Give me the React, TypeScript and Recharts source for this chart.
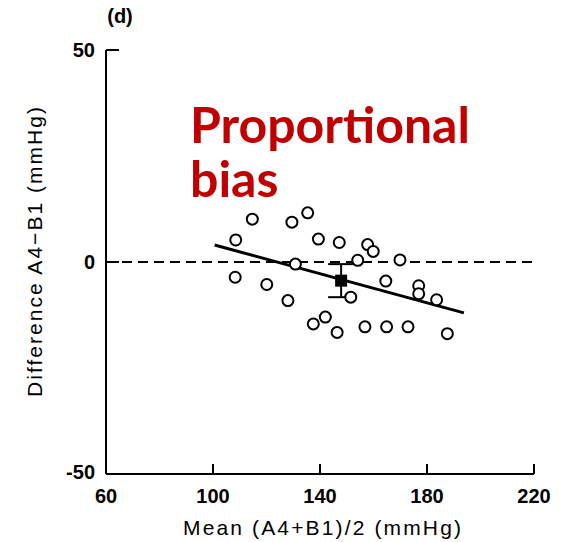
import React from "react";
import {
  ErrorBar,
  ReferenceLine,
  Scatter,
  ScatterChart,
  XAxis,
  YAxis,
} from "recharts";

// individual subjects: mean of the two readings vs their difference
const meanValues = [
  108.5, 114.7, 129.5, 135.4, 139.4, 147.2, 157.8, 159.9, 154.1, 169.9,
  108.3, 120.1, 128.0, 130.8, 164.6, 176.9, 176.9, 183.6, 151.5, 137.5,
  142.0, 146.4, 156.8, 164.9, 172.9, 187.6,
];
const diffValues = [
  5.2, 10.1, 9.4, 11.6, 5.4, 4.6, 4.1, 2.5, 0.4, 0.5,
  -3.6, -5.3, -9.1, -0.5, -4.5, -5.6, -7.5, -8.9, -8.3, -14.6,
  -13.0, -16.6, -15.3, -15.3, -15.3, -16.9,
];

// overall mean difference with its error bar
const biasX = [147.9];
const biasY = [-4.4];
const biasErr = [3.9];

// regression line end points
const fitX = [100.6, 193.8];
const fitY = [4.0, -12.0];

const xTicks = [60, 100, 140, 180, 220];
const yTicks = [-50, 0, 50];

const points = meanValues.map((x, i) => ({ x, y: diffValues[i] }));
const bias = biasX.map((x, i) => ({ x, y: biasY[i], err: biasErr[i] }));
const fitSegment = fitX.map((x, i) => ({ x, y: fitY[i] }));

const FONT = "'Liberation Sans', Arial, Helvetica, sans-serif";

function XTick(props: any) {
  const { x, y, payload } = props;
  const axisY = y - 3;
  return (
    <g>
      {payload.value !== 60 && (
        <line x1={x} x2={x} y1={axisY} y2={axisY - 10} stroke="#000" strokeWidth={2} />
      )}
      <text
        x={x}
        y={axisY + 29}
        textAnchor="middle"
        fontFamily={FONT}
        fontWeight="bold"
        fontSize={20}
        fill="#000"
      >
        {payload.value}
      </text>
    </g>
  );
}

function YTick(props: any) {
  const { x, y, payload } = props;
  const axisX = x + 11;
  return (
    <g>
      {payload.value !== -50 && (
        <line x1={axisX} x2={axisX + 13} y1={y} y2={y} stroke="#000" strokeWidth={2} />
      )}
      <text
        x={x}
        y={payload.value === -50 ? y - 2 : y}
        dy="0.36em"
        textAnchor="end"
        fontFamily={FONT}
        fontWeight="bold"
        fontSize={20}
        fill="#000"
      >
        {payload.value}
      </text>
    </g>
  );
}

function BiasSquare(props: any) {
  const { cx, cy } = props;
  return <rect x={cx - 6} y={cy - 6} width={12} height={12} fill="#000" />;
}

export default function App() {
  return (
    <div style={{ position: "absolute", left: 0, top: 0, width: 570, height: 542, background: "#fff" }}>
      <ScatterChart width={570} height={542} margin={{ top: 50, right: 36, bottom: 0, left: 0 }}>
        <XAxis
          type="number"
          dataKey="x"
          domain={[60, 220]}
          ticks={xTicks}
          height={68}
          tickSize={0}
          tickMargin={3}
          tick={XTick}
          axisLine={{ stroke: "#000", strokeWidth: 2 }}
          label={{
            content: () => (
              <text
                x={322}
                y={535}
                textAnchor="middle"
                textLength={278}
                fontFamily={FONT}
                fontSize={21}
                fill="#000"
              >
                Mean (A4+B1)/2 (mmHg)
              </text>
            ),
          }}
        />
        <YAxis
          type="number"
          dataKey="y"
          domain={[-50, 50]}
          ticks={yTicks}
          width={106}
          tickSize={0}
          tickMargin={11}
          tick={YTick}
          axisLine={{ stroke: "#000", strokeWidth: 2 }}
          label={{
            content: () => (
              <text
                transform="translate(42,252) rotate(-90)"
                textAnchor="middle"
                textLength={290}
                fontFamily={FONT}
                fontSize={21}
                fill="#000"
              >
                Difference A4−B1 (mmHg)
              </text>
            ),
          }}
        />
        <ReferenceLine y={0} stroke="#000" strokeWidth={2} strokeDasharray="10 6" />
        <ReferenceLine segment={fitSegment} stroke="#000" strokeWidth={3} />
        <Scatter
          data={points}
          fill="#fff"
          stroke="#000"
          strokeWidth={2}
          shape={(p: any) => (
            <circle cx={p.cx} cy={p.cy} r={5.5} fill="#fff" stroke="#000" strokeWidth={2} />
          )}
          isAnimationActive={false}
        />
        <Scatter data={bias} fill="#000" shape={BiasSquare} isAnimationActive={false}>
          <ErrorBar dataKey="err" direction="y" width={13} stroke="#000" strokeWidth={2} />
        </Scatter>
        <text x={120} y={23} textAnchor="middle" fontFamily={FONT} fontWeight="bold" fontSize={20} fill="#000">
          (d)
        </text>
        <text x={190} y={143} fontFamily="Lato, 'Open Sans', sans-serif" fontWeight="bold" fontSize={50} fill="#c00000">
          Proportional
        </text>
        <text x={190} y={197} fontFamily="Lato, 'Open Sans', sans-serif" fontWeight="bold" fontSize={50} fill="#c00000">
          bias
        </text>
      </ScatterChart>
    </div>
  );
}
